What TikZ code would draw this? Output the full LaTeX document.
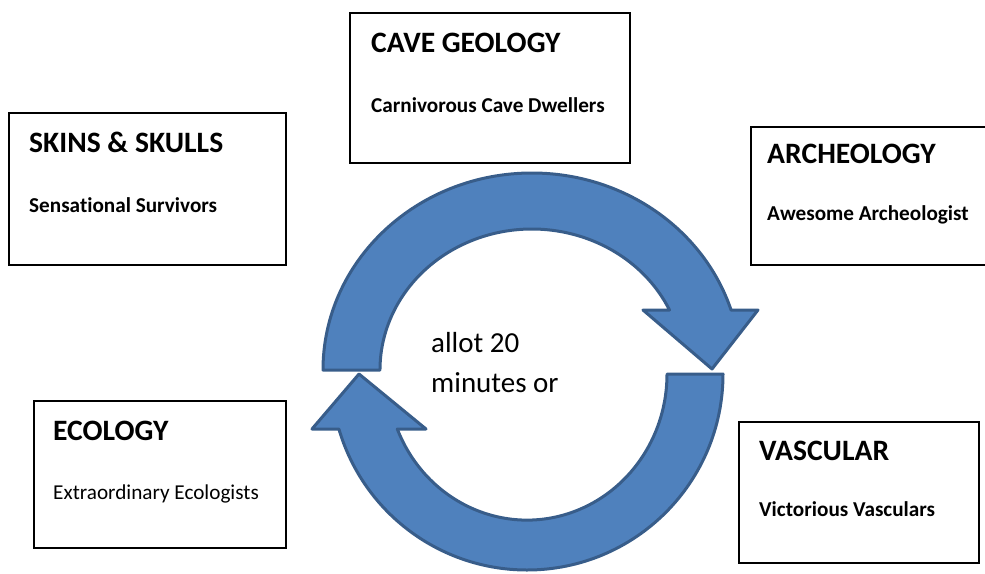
\documentclass[tikz,border=0pt]{standalone}
\usepackage{fontspec}
\setmainfont[Ligatures=NoCommon]{Carlito}
\definecolor{arrowfill}{HTML}{4F81BD}
\definecolor{arrowline}{HTML}{385D8A}
\begin{document}
\begin{tikzpicture}[x=1pt,y=-1pt,
  box/.style={draw=black,line width=1.5pt,fill=white,anchor=north west,inner sep=0pt},
  title/.style={anchor=base west,inner sep=0pt,font=\fontsize{29.6}{34}\selectfont\bfseries},
  sub/.style={anchor=base west,inner sep=0pt,font=\fontsize{21.2}{24}\selectfont\bfseries},
  subreg/.style={anchor=base west,inner sep=0pt,font=\fontsize{21.2}{24}\selectfont},
  cyc/.style={fill=arrowfill,draw=arrowline,line width=3pt,line join=round}]
\useasboundingbox (0,0) rectangle (985,573);
\clip (0,0) rectangle (985,573);
% boxes
\node[box,minimum width=277pt,minimum height=152pt] (skins) at (8,112) {};
\node[box,minimum width=280pt,minimum height=150pt] (cave) at (349,12) {};
\node[box,minimum width=250pt,minimum height=138pt] (arch) at (750,126) {};
\node[box,minimum width=240pt,minimum height=141pt] (vasc) at (738,421) {};
\node[box,minimum width=252pt,minimum height=147pt] (eco) at (33,400) {};
% texts
\node[title] (skinsT) at (29,152) {SKINS \& SKULLS};
\node[sub] (skinsS) at (29,212) {Sensational Survivors};
\node[title] (caveT) at (371,52) {CAVE GEOLOGY};
\node[sub] (caveS) at (371,112) {Carnivorous Cave Dwellers};
\node[title] (archT) at (767,163) {ARCHEOLOGY};
\node[sub] (archS) at (767,220) {Awesome Archeologist};
\node[title] (vascT) at (759,460) {VASCULAR};
\node[sub] (vascS) at (759,516) {Victorious Vasculars};
\node[title] (ecoT) at (53,440) {ECOLOGY};
\node[subreg] (ecoS) at (53,499) {Extraordinary Ecologists};
% circular arrows
\draw[cyc] (323,370) arc[start angle=180,end angle=342.3,x radius=209,y radius=197]
  -- (758,310) -- (712,369) -- (643,310) -- (669.5,310)
  arc[start angle=334.8,end angle=180,x radius=152,y radius=141] -- cycle;
\draw[cyc] (723,374) arc[start angle=0,end angle=163.7,x radius=196,y radius=196]
  -- (312,429) -- (359,374) -- (426,429) -- (397.3,429)
  arc[start angle=157.9,end angle=0,x radius=140,y radius=146] -- cycle;
\node[anchor=base west,inner sep=0pt,align=left,font=\fontsize{29}{40}\selectfont] (allot) at (431,392) {allot 20\\minutes or};
\end{tikzpicture}
\end{document}
